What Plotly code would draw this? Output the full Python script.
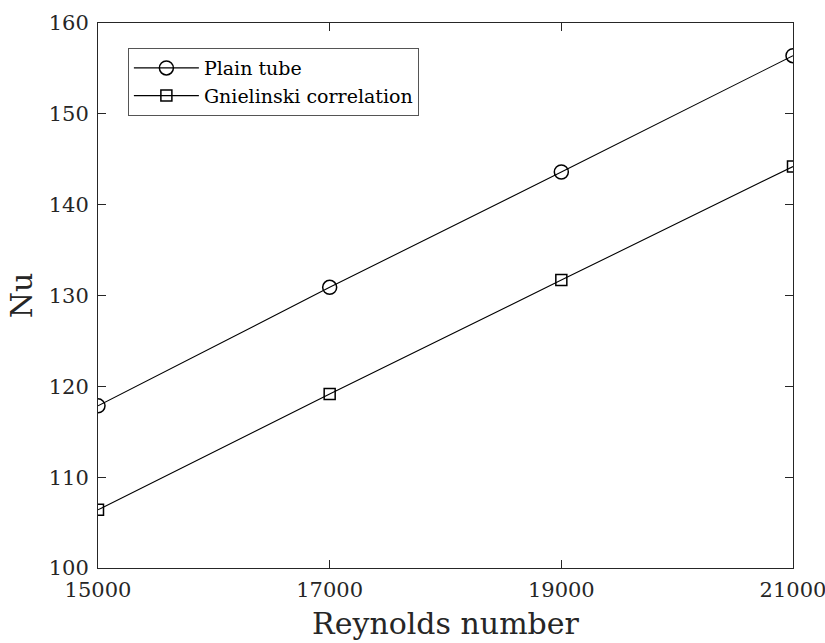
import plotly.graph_objects as go

reynolds = [15000, 17000, 19000, 21000]
nu_plain = [117.85, 130.9, 143.6, 156.4]
nu_gnielinski = [106.4, 119.15, 131.7, 144.2]
x_ticks = [15000, 17000, 19000, 21000]
y_ticks = [100, 110, 120, 130, 140, 150, 160]

FONT = "DejaVu Serif"
AXC = "#262626"

fig = go.Figure()
fig.add_trace(go.Scatter(
    x=reynolds, y=nu_plain, mode="lines+markers", name="Plain tube",
    line=dict(color="black", width=1.1),
    marker=dict(symbol="circle-open", size=14, color="black", line=dict(width=1.5)),
))
fig.add_trace(go.Scatter(
    x=reynolds, y=nu_gnielinski, mode="lines+markers", name="Gnielinski correlation",
    line=dict(color="black", width=1.1),
    marker=dict(symbol="square-open", size=11, color="black", line=dict(width=1.5)),
))

axis_common = dict(
    showline=True, linecolor=AXC, linewidth=1, mirror="ticks",
    ticks="inside", ticklen=8, tickcolor=AXC, tickwidth=1,
    showgrid=False, zeroline=False, automargin=False,
    ticklabeloverflow="allow",
    tickfont=dict(family=FONT, size=21, color="#262626"),
)

fig.update_xaxes(
    range=[15000, 21000], tickvals=x_ticks, ticktext=[str(v) for v in x_ticks],
    title=dict(text="Reynolds number", font=dict(family=FONT, size=30, color="#262626"), standoff=11),
    ticklabelstandoff=3,
    **axis_common,
)
fig.update_yaxes(
    range=[100, 160], tickvals=y_ticks, ticktext=[str(v) for v in y_ticks],
    title=dict(text="Nu", font=dict(family=FONT, size=30, color="#262626"), standoff=7),
    ticklabelstandoff=4,
    **axis_common,
)

fig.update_layout(
    width=825, height=643,
    margin=dict(l=98, r=32, t=23, b=75),
    paper_bgcolor="white", plot_bgcolor="white",
    showlegend=True,
    legend=dict(
        x=0.043, y=0.954, xanchor="left", yanchor="top",
        bgcolor="white", bordercolor="#555555", borderwidth=1,
        font=dict(family=FONT, size=19, color="black"),
        itemwidth=65, tracegroupgap=0,
    ),
)

fig.write_html(
    "out.html",
    config={"displayModeBar": False},
    post_script="document.body.style.margin='0px';",
)
